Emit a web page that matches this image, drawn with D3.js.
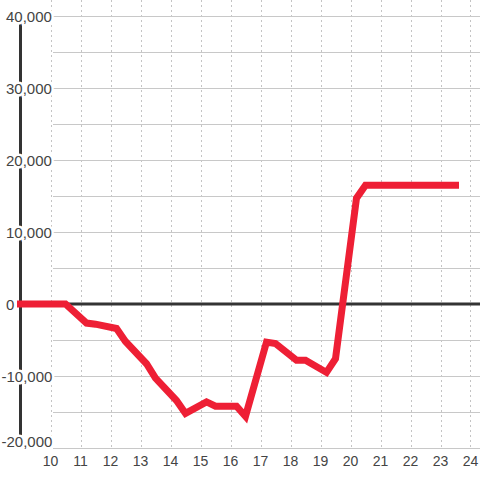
<!DOCTYPE html>
<meta charset="utf-8">
<style>
  body { margin: 0; background: #fff; }
  svg { display: block; font-family: "Liberation Sans", Arial, sans-serif; }
  .grid line { stroke: #c8c8c8; shape-rendering: crispEdges; }
  .vgrid line { stroke: #c4c4c4; stroke-dasharray: 2,3; shape-rendering: crispEdges; }
  .ylab text { fill: #444; font-size: 15px; stroke: #fff; stroke-width: 5px; paint-order: stroke; stroke-linejoin: round; }
  .xlab text { fill: #444; font-size: 14px; }
</style>
<body>
<script src="https://d3js.org/d3.v7.min.js"></script>
<script>

  // hour of day vs. value
  var hours = [9, 10.5, 11.2, 11.5, 12.2, 12.5, 13.2, 13.5, 14.2, 14.5, 15.2, 15.5,
    16.2, 16.5, 17.2, 17.5, 18.2, 18.5, 19.2, 19.5, 20.2, 20.5, 23.5];
  var values = [0, 0, -2650, -2800, -3400, -5200, -8300, -10300, -13400, -15200, -13600, -14200,
    -14200, -15600, -5300, -5500, -7800, -7800, -9500, -7600, 14700, 16500, 16500];

  var xTicks = [10, 11, 12, 13, 14, 15, 16, 17, 18, 19, 20, 21, 22, 23, 24];
  var yTicks = [40000, 30000, 20000, 10000, 0, -10000, -20000];
  var yMinor = [35000, 25000, 15000, 5000, -5000, -15000];

  var width = 480, height = 480;

  var x = d3.scaleLinear().domain([9, 24.3]).range([20.5, 479.5]);
  var y = d3.scaleLinear().domain([-20000, 40000]).range([448, 16]);

  var svg = d3.select("body").append("svg")
    .attr("width", width)
    .attr("height", height);

  // vertical dashed grid
  svg.append("g").attr("class", "vgrid")
    .selectAll("line").data(xTicks).enter().append("line")
    .attr("x1", function (d) { return Math.round(x(d)) + 0.5; })
    .attr("x2", function (d) { return Math.round(x(d)) + 0.5; })
    .attr("y1", 0).attr("y2", y(-20000));

  // horizontal grid
  svg.append("g").attr("class", "grid")
    .selectAll("line").data(yTicks.concat(yMinor)).enter().append("line")
    .attr("x1", 53).attr("x2", width)
    .attr("y1", function (d) { return Math.round(y(d)) + 0.5; })
    .attr("y2", function (d) { return Math.round(y(d)) + 0.5; });

  // zero line
  svg.append("line")
    .attr("x1", x(9)).attr("x2", width)
    .attr("y1", y(0)).attr("y2", y(0))
    .attr("stroke", "#333").attr("stroke-width", 3);

  // y axis line
  svg.append("line")
    .attr("x1", x(9)).attr("x2", x(9))
    .attr("y1", y(40000)).attr("y2", y(-20000))
    .attr("stroke", "#333").attr("stroke-width", 3);

  // data line
  var line = d3.line()
    .x(function (d, i) { return x(hours[i]); })
    .y(function (d) { return y(d); });

  svg.append("path")
    .datum(values)
    .attr("d", line)
    .attr("fill", "none")
    .attr("stroke", "#ee1f35")
    .attr("stroke-width", 7)
    .attr("stroke-linecap", "square")
    .attr("stroke-linejoin", "miter");

  // y labels (minus sign hangs left)
  var fmt = d3.format(",");
  svg.append("g").attr("class", "ylab")
    .selectAll("text").data(yTicks).enter().append("text")
    .attr("x", 6)
    .attr("dx", function (d) { return d < 0 ? -4.5 : 0; })
    .attr("y", function (d) { return d === -20000 ? y(d) - 1.5 : y(d) + 5.5; })
    .text(function (d) { return d < 0 ? "-" + fmt(-d) : fmt(d); });

  // x labels
  svg.append("g").attr("class", "xlab")
    .selectAll("text").data(xTicks).enter().append("text")
    .attr("x", function (d) { return x(d); })
    .attr("y", 465.5)
    .attr("text-anchor", "middle")
    .text(function (d) { return d; });

</script>
</body>
